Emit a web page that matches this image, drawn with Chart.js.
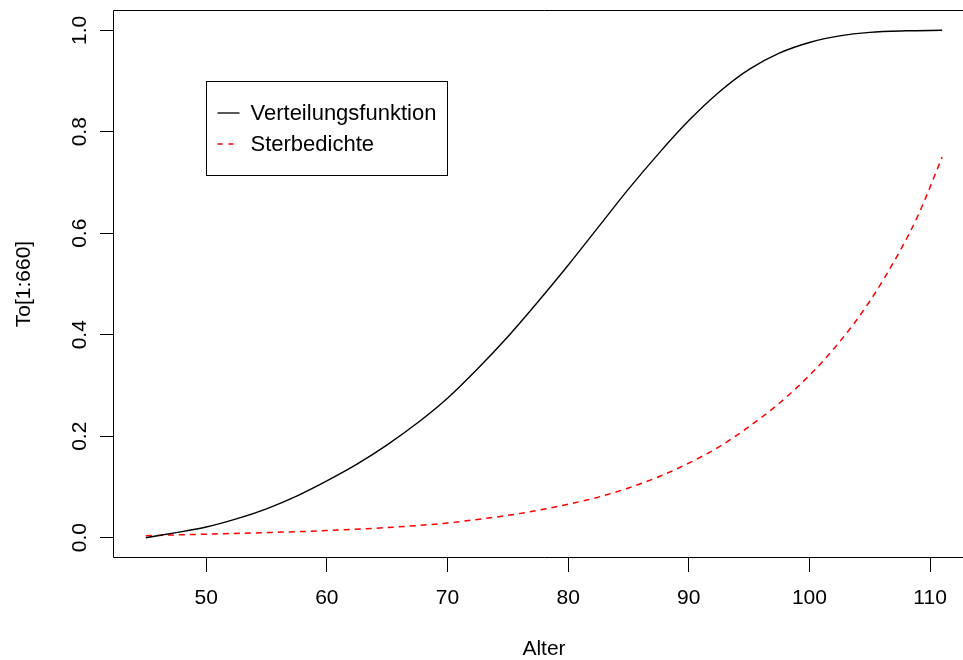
<!DOCTYPE html>
<html>
<head>
<meta charset="utf-8">
<script src="https://cdn.jsdelivr.net/npm/chart.js@4.4.1/dist/chart.umd.min.js"></script>
<style>
  html, body { margin: 0; padding: 0; background: #fff; overflow: hidden; }
  canvas { display: block; }
</style>
</head>
<body>
<canvas id="chart" width="975" height="660"></canvas>
<script>
// Alter (Jahre) und die beiden Kurven
const agesV = [45, 47.5, 50, 52.5, 55, 57.5, 60, 62.5, 65, 67.5, 70, 72.5, 75, 77.5, 80, 82.5, 85, 87.5, 90, 92.5, 95, 97.5, 100, 102.5, 105, 108, 111];
const verteilung = [0, 0.010, 0.021, 0.037, 0.057, 0.082, 0.112, 0.145, 0.183, 0.226, 0.275, 0.333, 0.396, 0.465, 0.537, 0.612, 0.687, 0.757, 0.822, 0.878, 0.923, 0.955, 0.976, 0.989, 0.996, 0.999, 1.0];

const agesS = [45, 50, 55, 60, 65, 70, 72.5, 75, 77.5, 80, 82.5, 85, 87.5, 90, 92.5, 95, 97.5, 100, 102.5, 105, 107.5, 109, 111];
const sterbedichte = [0.004, 0.007, 0.010, 0.014, 0.020, 0.029, 0.036, 0.044, 0.054, 0.066, 0.080, 0.098, 0.120, 0.147, 0.179, 0.219, 0.265, 0.320, 0.386, 0.466, 0.565, 0.635, 0.75];

const xTicks = [50, 60, 70, 80, 90, 100, 110];
const yTicks = [0, 0.2, 0.4, 0.6, 0.8, 1.0];

Chart.defaults.font.family = "'Liberation Sans', Arial, Helvetica, sans-serif";
Chart.defaults.font.size = 21;
Chart.defaults.color = '#000';

const toPoints = (xs, vals) => xs.map((a, i) => ({ x: a, y: vals[i] }));

// Rahmen um den Plotbereich (rechte Kante liegt ausserhalb des Bildes)
const frame = {
  id: 'frame',
  afterDatasetsDraw(chart) {
    const { ctx, chartArea: a } = chart;
    const l = a.left - 0.5, t = a.top + 0.5, b = a.bottom - 0.5;
    ctx.save();
    ctx.strokeStyle = '#000';
    ctx.lineWidth = 1;
    ctx.beginPath();
    ctx.moveTo(a.right + 5, t);
    ctx.lineTo(l, t);
    ctx.lineTo(l, b);
    ctx.lineTo(a.right + 5, b);
    ctx.stroke();
    ctx.restore();
  }
};

// Legende oben links im Plot
const legendBox = {
  id: 'legendBox',
  afterDatasetsDraw(chart) {
    const { ctx, chartArea: a } = chart;
    const x0 = a.left + 92.5, y0 = a.top + 71.5, w = 241, h = 94;
    ctx.save();
    ctx.fillStyle = '#fff';
    ctx.fillRect(x0, y0, w, h);
    ctx.strokeStyle = '#000';
    ctx.lineWidth = 1;
    ctx.strokeRect(x0, y0, w, h);
    chart.data.datasets.forEach((ds, i) => {
      const yy = y0 + 31.5 + i * 31;
      ctx.strokeStyle = ds.borderColor;
      ctx.lineWidth = 1.3;
      ctx.setLineDash(i === 1 ? [5, 6] : []);
      ctx.beginPath();
      ctx.moveTo(x0 + 11, yy);
      ctx.lineTo(x0 + 33, yy);
      ctx.stroke();
      ctx.setLineDash([]);
      ctx.fillStyle = '#000';
      ctx.font = "22px 'Liberation Sans', Arial, sans-serif";
      ctx.textBaseline = 'middle';
      ctx.textAlign = 'left';
      ctx.fillText(ds.label, x0 + 44, yy + 1);
    });
    ctx.restore();
  }
};

new Chart(document.getElementById('chart'), {
  type: 'line',
  data: {
    datasets: [{
      label: 'Verteilungsfunktion',
      data: toPoints(agesV, verteilung),
      borderColor: '#000000',
      borderWidth: 1.4,
      pointRadius: 0,
      fill: false,
      cubicInterpolationMode: 'monotone'
    }, {
      label: 'Sterbedichte',
      data: toPoints(agesS, sterbedichte),
      borderColor: '#ff0000',
      borderWidth: 1.5,
      borderDash: [6, 5],
      pointRadius: 0,
      fill: false,
      cubicInterpolationMode: 'monotone'
    }]
  },
  options: {
    responsive: false,
    animation: false,
    events: [],
    layout: { padding: { top: 10, right: 1, left: 0, bottom: 0 } },
    plugins: { legend: { display: false }, tooltip: { enabled: false } },
    scales: {
      x: {
        type: 'linear',
        min: 42.36,
        max: 113.64,
        afterBuildTicks: s => { s.ticks = xTicks.map(v => ({ value: v })); },
        afterFit: s => { s.height = 102; s.paddingLeft = 0; s.paddingRight = 0; },
        ticks: { padding: 14, maxRotation: 0, autoSkip: false, color: '#000' },
        grid: { drawOnChartArea: false, drawTicks: true, tickLength: 14, color: '#000', tickColor: '#000' },
        border: { display: false },
        title: { display: true, text: 'Alter', color: '#000', font: { size: 21, lineHeight: 1 }, padding: { top: 0, bottom: 0 } }
      },
      y: {
        type: 'linear',
        min: -0.04,
        max: 1.04,
        afterBuildTicks: s => { s.ticks = yTicks.map(v => ({ value: v })); },
        afterFit: s => { s.width = 114; s.paddingTop = 0; s.paddingBottom = 0; },
        ticks: {
          callback: v => v.toFixed(1),
          minRotation: 90,
          maxRotation: 90,
          crossAlign: 'center',
          padding: 5,
          autoSkip: false,
          color: '#000'
        },
        grid: { drawOnChartArea: false, drawTicks: true, tickLength: 14, color: '#000', tickColor: '#000' },
        border: { display: false },
        title: { display: true, text: 'To[1:660]', color: '#000', font: { size: 21, lineHeight: 1 }, padding: { top: 13.5, bottom: 0 } }
      }
    }
  },
  plugins: [frame, legendBox]
});
</script>
</body>
</html>
